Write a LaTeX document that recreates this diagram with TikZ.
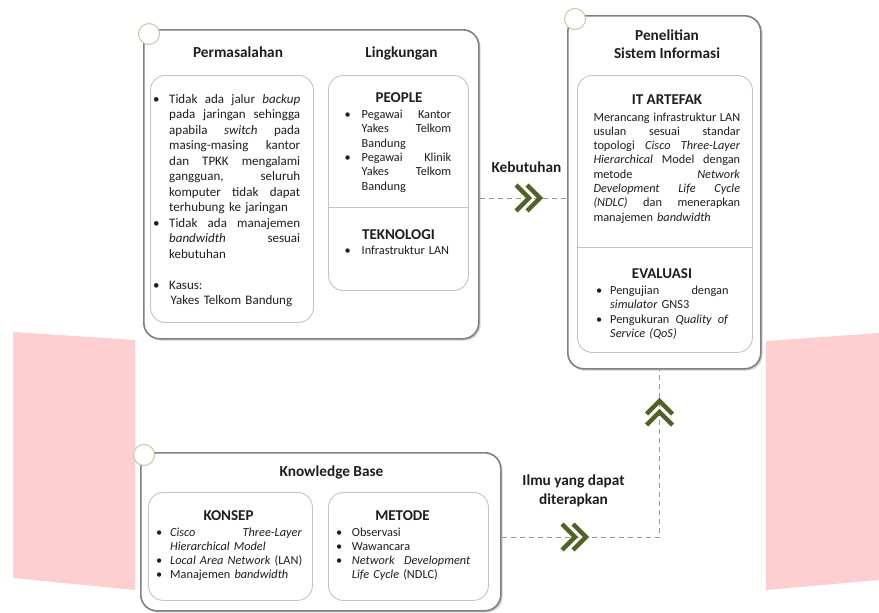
\documentclass[tikz,border=0pt]{standalone}
\usepackage{fontspec}
\setmainfont{Carlito}
\usetikzlibrary{shadows}
\definecolor{boxgray}{RGB}{128,128,128}
\definecolor{innergray}{RGB}{196,196,196}
\definecolor{chevgreen}{RGB}{79,98,40}
\definecolor{dashgreen}{RGB}{150,158,128}
\definecolor{ringgreen}{RGB}{190,205,160}
\definecolor{wmpink}{RGB}{254,207,209}
\definecolor{txt}{RGB}{30,30,30}
\newlength\bind
\newlength\tw
\newcommand\bulJ[1]{\hbox to \tw{\spaceskip=.226em plus 1fil\makebox[\bind][l]{\textbullet}#1}}
\newcommand\bulN[1]{\hbox to \tw{\makebox[\bind][l]{\textbullet}#1\hfill}}
\newcommand\linJ[1]{\hbox to \tw{\spaceskip=.226em plus 1fil\hskip\bind #1}}
\newcommand\linN[1]{\hbox to \tw{\hskip\bind #1\hfill}}
\hbadness=10000
\tikzset{
  outerbox/.style={draw=boxgray, line width=1.6pt, rounded corners=16pt, fill=white,
    drop shadow={shadow xshift=1.8pt, shadow yshift=-1.8pt, opacity=0.35},
    inner sep=0, anchor=north west},
  innerbox/.style={draw=innergray, line width=0.9pt, rounded corners=15pt, fill=white,
    inner sep=0, anchor=north west},
  ring/.style={circle, draw=ringgreen, line width=1pt, fill=white, minimum size=21pt, inner sep=0},
  head/.style={inner sep=0, anchor=base, align=center, text=txt,
    font=\bfseries\fontsize{15.3}{18.5}\selectfont},
  subhead/.style={inner sep=0, anchor=base, text=txt, font=\bfseries\fontsize{15}{18}\selectfont},
  bodyA/.style={inner sep=0, anchor=base west, text=txt, font=\fontsize{13}{15.5}\selectfont},
  bodyB/.style={inner sep=0, anchor=base west, text=txt, font=\fontsize{12.3}{14.3}\selectfont},
  divline/.style={draw=innergray, line width=0.9pt},
  dashcon/.style={draw=dashgreen, line width=1pt, dash pattern=on 5pt off 4pt},
  chev/.style={draw=chevgreen, line width=4.3pt, line join=miter, line cap=butt},
  dchev/.pic={\draw[chev] (-13,-13) -- (0,0) -- (-13,13);
              \draw[chev] (-2,-13) -- (11,0) -- (-2,13);}
}
\begin{document}
\begin{tikzpicture}[x=1pt, y=-1pt]
\useasboundingbox (0,0) rectangle (879,613);
\fill[white] (0,0) rectangle (879,613);
% watermark shapes
\fill[wmpink] (13,332) -- (135,340) -- (135,590) -- (13,578) -- cycle;
\fill[wmpink] (766,341) -- (879,333) -- (879,580) -- (766,590) -- cycle;

% outer boxes
\node[outerbox, minimum width=335pt, minimum height=309pt] (prob) at (143,29) {};
\node[outerbox, minimum width=193pt, minimum height=353pt] (pen) at (567,15) {};
\node[outerbox, minimum width=360pt, minimum height=158pt] (kb) at (140,452) {};
\node[ring] (r1) at (149,34) {};
\node[ring] (r2) at (575,19) {};
\node[ring] (r3) at (144,455) {};

% inner boxes
\node[innerbox, minimum width=163pt, minimum height=247pt] (probL) at (150,75) {};
\node[innerbox, minimum width=140pt, minimum height=215pt] (probR) at (328,75) {};
\node[innerbox, minimum width=175pt, minimum height=277pt] (penI) at (577,75) {};
\node[innerbox, minimum width=164pt, minimum height=108pt] (konsep) at (148,492) {};
\node[innerbox, minimum width=160pt, minimum height=108pt] (metode) at (328,492) {};
\coordinate (d1) at (0,207);
\coordinate (d2) at (0,247);
\draw[divline] (probR.west |- d1) -- (probR.east |- d1);
\draw[divline] (penI.west |- d2) -- (penI.east |- d2);

% titles
\node[head] (tPerm) at (238,57.5) {Permasalahan};
\node[head] (tLing) at (401.5,57.5) {Lingkungan};
\node[head] (tPen) at (667,58.5) {Penelitian\\Sistem Informasi};
\node[head] (tKB) at (331.5,476) {Knowledge Base};
\node[head] (tKeb) at (526.5,172.5) {Kebutuhan};
\node[head] (tIlmu) at (573.5,504) {Ilmu yang dapat\\diterapkan};
\node[subhead] (tPeople) at (399,102.7) {PEOPLE};
\node[subhead] (tTek) at (398.5,239) {TEKNOLOGI};
\node[subhead] (tIT) at (667,104) {IT ARTEFAK};
\node[subhead] (tEval) at (662,278.5) {EVALUASI};
\node[subhead] (tKons) at (228.5,520) {KONSEP};
\node[subhead] (tMet) at (402.5,520) {METODE};

% body texts
\node[bodyA, text width=147pt] (xProb) at (153,103) {\setlength\bind{16pt}\setlength\tw{147pt}%
\bulJ{Tidak ada jalur \emph{backup}}
\linJ{pada jaringan sehingga}
\linJ{apabila \emph{switch} pada}
\linJ{masing-masing kantor}
\linJ{dan TPKK mengalami}
\linJ{gangguan, seluruh}
\linJ{komputer tidak dapat}
\linN{terhubung ke jaringan}
\bulJ{Tidak ada manajemen}
\linJ{\emph{bandwidth} sesuai}
\linN{kebutuhan}
\vskip15.5pt
\bulN{Kasus:}
\linN{\hskip1.5pt Yakes Telkom Bandung}};

\node[bodyB, text width=106.5pt] (xPeople) at (344.5,118.5) {\setlength\bind{17pt}\setlength\tw{106.5pt}%
\bulJ{Pegawai Kantor}
\linJ{Yakes Telkom}
\linN{Bandung}
\bulJ{Pegawai Klinik}
\linJ{Yakes Telkom}
\linN{Bandung}};

\node[bodyB, text width=106.5pt] (xTek) at (344.5,254.5) {\setlength\bind{17pt}\setlength\tw{106.5pt}%
\bulN{Infrastruktur LAN}};

\node[bodyB, text width=146.7pt] (xIT) at (593.3,121) {\setlength\bind{0pt}\setlength\tw{146.7pt}%
\linJ{Merancang infrastruktur LAN}
\linJ{usulan sesuai standar}
\linJ{topologi \emph{Cisco Three-Layer}}
\linJ{\emph{Hierarchical} Model dengan}
\linJ{metode \emph{Network}}
\linJ{\emph{Development Life Cycle}}
\linJ{\emph{(NDLC)} dan menerapkan}
\linN{manajemen \emph{bandwidth}}};

\node[bodyB, text width=132.3pt] (xEval) at (596,294.5) {\setlength\bind{14pt}\setlength\tw{132.3pt}%
\bulJ{Pengujian dengan}
\linN{\emph{simulator} GNS3}
\bulJ{Pengukuran \emph{Quality of}}
\linN{\emph{Service (QoS)}}};

\node[bodyB, text width=145.7pt] (xKons) at (156,536) {\setlength\bind{14pt}\setlength\tw{145.7pt}%
\bulJ{\emph{Cisco Three-Layer}}
\linN{\emph{Hierarchical Model}}
\bulN{\emph{Local Area Network} (LAN)}
\bulN{Manajemen \emph{bandwidth}}};

\node[bodyB, text width=134pt] (xMet) at (336,536) {\setlength\bind{15.7pt}\setlength\tw{134pt}%
\bulN{Observasi}
\bulN{Wawancara}
\bulJ{\emph{Network Development}}
\linN{\emph{Life Cycle} (NDLC)}};

% connectors
\coordinate (chev1) at (529,198);
\coordinate (chev2) at (575,537);
\coordinate (turn) at (659.5,537);
\coordinate (chev3) at (659.5,412);
\draw[dashcon] (prob.east |- chev1) -- (pen.west |- chev1);
\draw[dashcon] (kb.east |- turn) -- (turn) -- (pen.south -| turn);
\pic at (chev1) {dchev};
\pic at (chev2) {dchev};
\pic[rotate=90] at (chev3) {dchev};
\end{tikzpicture}
\end{document}
